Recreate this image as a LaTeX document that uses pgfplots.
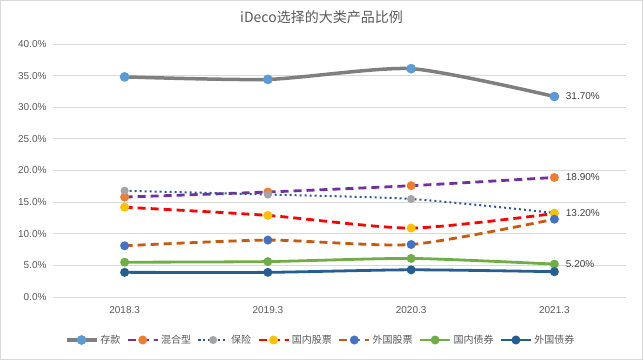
\documentclass[border=0pt]{standalone}
\usepackage{fontspec}
\setmainfont{Liberation Sans}
\newfontfamily\cjk{Noto Sans CJK SC}
\usepackage{pgfplots}
\pgfplotsset{compat=1.18}
\definecolor{txt}{HTML}{595959}
\definecolor{gridc}{HTML}{D9D9D9}
\definecolor{cA}{HTML}{7F7F7F}\definecolor{mA}{HTML}{5B9BD5}
\definecolor{cB}{HTML}{7030A0}\definecolor{mB}{HTML}{ED7D31}
\definecolor{cC}{HTML}{2F5597}\definecolor{mC}{HTML}{A5A5A5}
\definecolor{cD}{HTML}{FF0000}\definecolor{mD}{HTML}{FFC000}
\definecolor{cE}{HTML}{C55A11}\definecolor{mE}{HTML}{4472C4}
\definecolor{cF}{HTML}{70AD47}\definecolor{mF}{HTML}{70AD47}
\definecolor{cG}{HTML}{255E91}\definecolor{mG}{HTML}{255E91}
\begin{document}
\begin{tikzpicture}[x=1pt,y=1pt]
\useasboundingbox (0,0) rectangle (643,360);
\draw[gridc, line width=1pt] (0.5,0.5) rectangle (642.5,359.5);
\node[text=txt, font=\cjk\fontsize{14}{16}\selectfont] at (321.5,343) {iDeco选择的大类产品比例};
\begin{axis}[
  at={(53pt,63pt)}, anchor=south west,
  scale only axis, width=573pt, height=253pt,
  xmin=-0.5, xmax=3.5, ymin=0, ymax=40,
  xtick={0,1,2,3}, xticklabels={2018.3,2019.3,2020.3,2021.3},
  ytick={0,5,...,40},
  yticklabel={\pgfmathprintnumber[fixed,fixed zerofill,precision=1]{\tick}\%},
  /pgf/number format/assume math mode=true,
  ymajorgrids, grid style={gridc, line width=0.8pt},
  axis line style={draw=none}, major tick length=0pt,
  tick label style={text=txt, font=\fontsize{10}{12}\selectfont},
  yticklabel style={xshift=-3pt},
  xticklabel style={yshift=-6pt},
  clip=false,
  legend columns=7,
  legend style={draw=none, fill=none, at={(0.467,-0.17)}, anchor=center,
    font=\cjk\fontsize{10}{12}\selectfont, text=txt,
    /tikz/every even column/.append style={column sep=4pt}},
  legend image code/.code={\draw[mark repeat=2,mark phase=2,#1] plot coordinates {(0pt,0pt)(15pt,0pt)(30pt,0pt)};},
  every axis plot/.append style={smooth, tension=0.4},
  nodes near coords style={text=black!75, font=\fontsize{10}{12}\selectfont, anchor=west, xshift=8pt},
]
\addplot[cA, line width=3.5pt, mark=*, mark size=3pt, mark options={solid, fill=mA, draw=mA}] coordinates {(0,34.8)(1,34.4)(2,36.1)(3,31.7)};
\addlegendentry{存款}
\addplot[cB, line width=2.8pt, dash pattern=on 8pt off 5pt, mark=*, mark size=3pt, mark options={solid, fill=mB, draw=mB}] coordinates {(0,15.8)(1,16.6)(2,17.6)(3,18.9)};
\addlegendentry{混合型}
\addplot[cC, line width=2pt, dash pattern=on 2pt off 3pt, mark=*, mark size=3pt, mark options={solid, fill=mC, draw=mC}] coordinates {(0,16.8)(1,16.2)(2,15.5)(3,13.3)};
\addlegendentry{保险}
\addplot[cD, line width=2.8pt, dash pattern=on 8pt off 5pt, mark=*, mark size=3pt, mark options={solid, fill=mD, draw=mD}] coordinates {(0,14.2)(1,12.9)(2,10.9)(3,13.2)};
\addlegendentry{国内股票}
\addplot[cE, line width=2.8pt, dash pattern=on 8pt off 5pt, mark=*, mark size=3pt, mark options={solid, fill=mE, draw=mE}] coordinates {(0,8.1)(1,9.0)(2,8.3)(3,12.3)};
\addlegendentry{外国股票}
\addplot[cF, line width=2.8pt, mark=*, mark size=3pt, mark options={solid, fill=mF, draw=mF}] coordinates {(0,5.5)(1,5.6)(2,6.1)(3,5.2)};
\addlegendentry{国内债券}
\addplot[cG, line width=2.8pt, mark=*, mark size=3pt, mark options={solid, fill=mG, draw=mG}] coordinates {(0,3.9)(1,3.9)(2,4.3)(3,4.0)};
\addlegendentry{外国债券}
\addplot[draw=none, no marks, forget plot, nodes near coords, point meta=explicit symbolic] coordinates {(3,31.7)[31.70\%] (3,18.9)[18.90\%] (3,13.2)[13.20\%] (3,5.2)[5.20\%]};
\end{axis}
\end{tikzpicture}
\end{document}
